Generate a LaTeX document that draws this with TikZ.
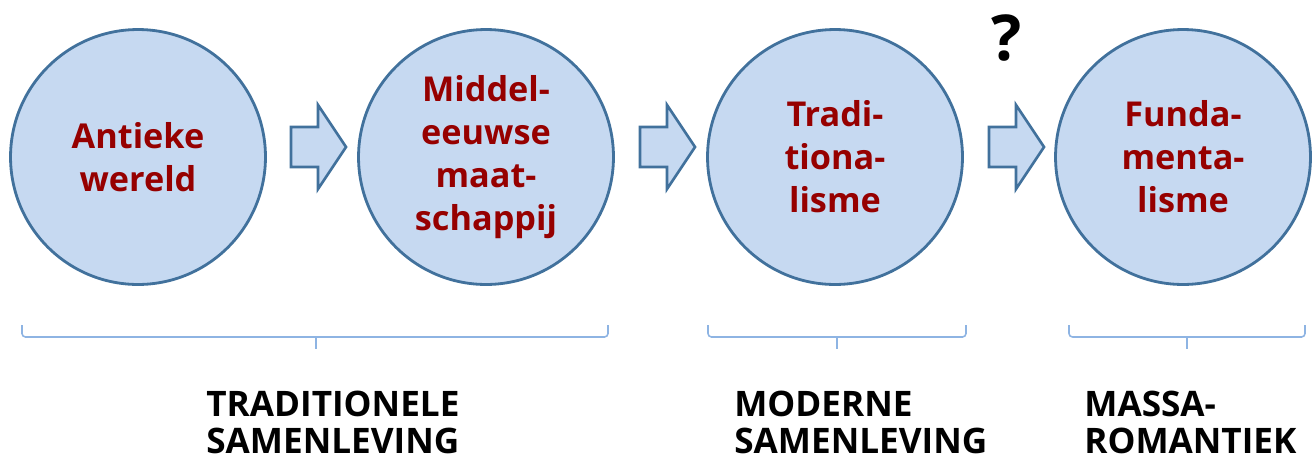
\documentclass[tikz,border=0pt]{standalone}
\usepackage{fontspec}
\setmainfont{Open Sans}
\definecolor{randblauw}{RGB}{65,113,156}
\definecolor{vulblauw}{RGB}{198,217,241}
\definecolor{accblauw}{RGB}{142,180,227}
\definecolor{donkerrood}{RGB}{150,0,0}
\begin{document}
\begin{tikzpicture}[x=0.02cm,y=-0.02cm,
  bol/.style={draw=randblauw,fill=vulblauw,line width=1.6pt,circle,minimum size=5.1cm,inner sep=0pt,
    align=center,text=donkerrood,font=\fontsize{19.5}{24.4}\selectfont\bfseries},
  pijl/.style={draw=randblauw,fill=vulblauw,line width=1.5pt,line join=miter},
  accolade/.style={draw=accblauw,line width=0.9pt,rounded corners=2pt},
  fase/.style={align=left,anchor=north west,inner sep=0pt,font=\fontsize{20}{20.6}\selectfont\bfseries}]
\useasboundingbox (0,0) rectangle (1314,464);
% de vier cirkels
\node[bol] (antiek)at(138,157){Antieke\\wereld};
\node[bol] (middel)at(486,157){Middel-\\eeuwse\\maat-\\schappij};
\node[bol] (tradi)at(835,157){Tradi-\\tiona-\\lisme};
\node[bol] (funda)at(1183,157){Funda-\\menta-\\lisme};
% pijlen tussen de cirkels
\coordinate (p1)at(318,147);
\coordinate (p2)at(667,147);
\coordinate (p3)at(1016,147);
\draw[pijl] (p1) ++(-27,-20) -- ++(27,0) -- ++(0,-22) -- ++(28,42) -- ++(-28,42) -- ++(0,-22) -- ++(-27,0) -- cycle;
\draw[pijl] (p2) ++(-27,-20) -- ++(27,0) -- ++(0,-22) -- ++(28,42) -- ++(-28,42) -- ++(0,-22) -- ++(-27,0) -- cycle;
\draw[pijl] (p3) ++(-27,-20) -- ++(27,0) -- ++(0,-22) -- ++(28,42) -- ++(-28,42) -- ++(0,-22) -- ++(-27,0) -- cycle;
\node[font=\fontsize{36}{40}\selectfont\bfseries] (vraag)at(1007,38){?};
% accolades
\coordinate (a1)at(316,337);
\coordinate (a2)at(837,337);
\coordinate (a3)at(1187,337);
\draw[accolade] (22,325) |- (a1) -| (608,325);
\draw[accolade] (708,325) |- (a2) -| (966,325);
\draw[accolade] (1069,325) |- (a3) -| (1305,325);
\draw[accolade] (a1) -- ++(0,12);
\draw[accolade] (a2) -- ++(0,12);
\draw[accolade] (a3) -- ++(0,12);
% namen van de fasen
\node[fase] (trad)at(206,391){TRADITIONELE\\SAMENLEVING};
\node[fase] (mod)at(734,391){MODERNE\\SAMENLEVING};
\node[fase] (massa)at(1084,391){MASSA-\\ROMANTIEK};
\end{tikzpicture}
\end{document}
